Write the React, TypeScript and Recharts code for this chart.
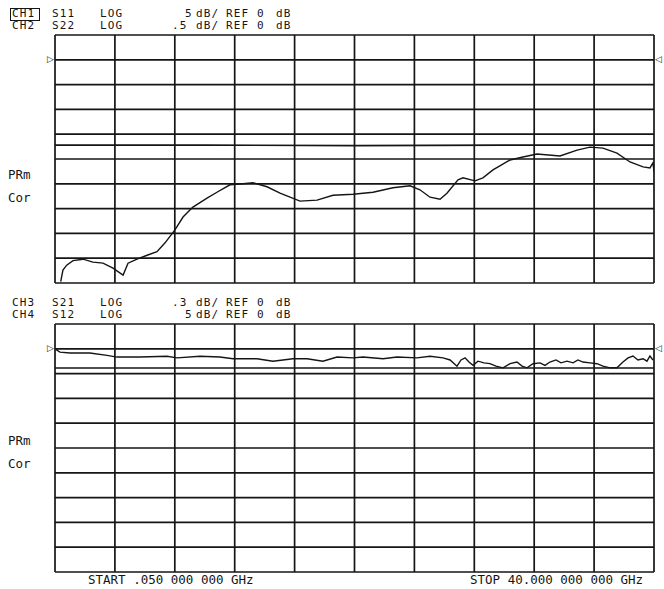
import React from 'react'
import { LineChart, Line, XAxis, YAxis, CartesianGrid } from 'recharts'

// frequency axis, GHz (10 divisions from start to stop)
const X_TICKS = [0.05, 4.045, 8.04, 12.035, 16.03, 20.025, 24.02, 28.015, 32.01, 36.005, 40]
// CH1: 5 dB/div, ref 0 dB one division below top
const CH1_TICKS = [-45, -40, -35, -30, -25, -20, -15, -10, -5, 0, 5]
// CH3: .3 dB/div, ref 0 dB one division below top
const CH3_TICKS = [-2.7, -2.4, -2.1, -1.8, -1.5, -1.2, -0.9, -0.6, -0.3, 0, 0.3]

const S11_FREQ = [
  0.43, 0.58, 0.83, 1.25, 1.92, 2.58, 3.25, 3.92, 4.59, 4.92, 5.52, 6.19, 6.85, 7.39,
  8.05, 8.59, 9.25, 10.19, 10.85, 11.72, 12.59, 13.26, 14.19, 15.06, 16.39, 17.53,
  18.59, 19.93, 21.26, 22.59, 23.73, 24.39, 25.06, 25.73, 26.19, 26.93, 27.26, 28.06,
  28.59, 29.26, 30.4, 31.26, 32.2, 33.73, 34.87, 35.73, 36.6, 37.53, 38.4, 39.27,
  39.73, 39.93, 40,
]
const S11_DB = [
  -44.7, -42.4, -41.4, -40.5, -40.2, -40.8, -41.0, -42.0, -43.4, -41.0, -40.2, -39.4,
  -38.7, -36.9, -34.3, -31.7, -29.7, -27.9, -26.7, -25.2, -25.0, -24.8, -25.6, -26.9,
  -28.5, -28.3, -27.3, -27.1, -26.7, -25.8, -25.4, -26.2, -27.7, -28.1, -26.9, -24.2,
  -23.8, -24.4, -23.8, -22.2, -20.2, -19.6, -19.0, -19.4, -18.2, -17.6, -17.8, -18.8,
  -20.6, -21.6, -21.8, -20.8, -22.6,
]

// CH2: .5 dB/div
const S22_FREQ = [0.05, 10, 20, 30, 40]
const S22_DB = [-1.72, -1.72, -1.73, -1.72, -1.72]

const S21_FREQ = [
  0.05, 0.38, 1.05, 2.38, 3.52, 4.19, 5.72, 7.52, 8.19, 9.72, 11.05, 11.92, 13.52,
  14.59, 15.92, 16.86, 17.92, 18.86, 19.92, 20.59, 21.93, 22.86, 24.19, 25.06, 25.93,
  26.4, 26.86, 27.13, 27.4, 27.66, 27.93, 28.26, 28.66, 29.06, 29.46, 29.93, 30.4,
  30.86, 31.2, 31.53, 31.93, 32.4, 32.73, 33.06, 33.46, 33.8, 34.2, 34.6, 34.93,
  35.26, 35.73, 36.2, 36.6, 37.07, 37.53, 37.93, 38.27, 38.6, 38.93, 39.27, 39.53,
  39.73, 39.93,
]
const S21_DB = [
  0.0, -0.04, -0.05, -0.05, -0.08, -0.1, -0.1, -0.09, -0.11, -0.09, -0.1, -0.12, -0.12,
  -0.15, -0.12, -0.12, -0.15, -0.1, -0.11, -0.1, -0.12, -0.1, -0.11, -0.09, -0.11,
  -0.135, -0.21, -0.135, -0.11, -0.16, -0.2, -0.15, -0.17, -0.18, -0.21, -0.23, -0.18,
  -0.16, -0.21, -0.23, -0.18, -0.17, -0.2, -0.16, -0.135, -0.17, -0.15, -0.17, -0.135,
  -0.16, -0.17, -0.18, -0.21, -0.23, -0.23, -0.16, -0.11, -0.087, -0.135, -0.12, -0.15,
  -0.087, -0.135,
]

// CH4: 5 dB/div
const S12_FREQ = [0.05, 10, 20, 30, 40]
const S12_DB = [-3.87, -3.87, -3.88, -3.87, -3.87]

const zip = (f: number[], v: number[]) => f.map((x, i) => ({ f: x, v: v[i] }))

const INK = '#151515'
const FONT = '"DejaVu Sans Mono", "Liberation Mono", monospace'

function T({ x, y, size = 12.5, children }: { x: number; y: number; size?: number; children: React.ReactNode }) {
  return (
    <span
      style={{
        position: 'absolute', left: x, top: y - 5, lineHeight: '10px', height: 10, fontSize: size,
        letterSpacing: size < 12 ? 1.1 : 0, fontFamily: FONT, color: INK, whiteSpace: 'pre',
      }}
    >
      {children}
    </span>
  )
}

function Header({ y, rows }: { y: number[]; rows: string[][] }) {
  const xs = [12, 52, 100, 0, 196, 226, 257, 276]
  return (
    <>
      {rows.map((r, ri) =>
        r.map((s, i) => {
          let x = xs[i]
          if (i === 3) x = s.startsWith('.') ? 172 : 185
          return <T key={ri + '-' + i} x={x} y={y[ri]} size={11}>{s}</T>
        }),
      )}
    </>
  )
}

function Panel({
  top, ticks, domainA, domainB, main, flat,
}: {
  top: number; ticks: number[]; domainA: [number, number]; domainB: [number, number]
  main: { f: number; v: number }[]; flat: { f: number; v: number }[]
}) {
  return (
    <div style={{ position: 'absolute', left: 0, top }}>
      <LineChart width={664} height={300} margin={{ top: 35, right: 10, bottom: 17, left: 55 }}>
        <CartesianGrid yAxisId="a" stroke={INK} strokeWidth={1.7} />
        <XAxis type="number" dataKey="f" domain={[0.05, 40]} ticks={X_TICKS} hide allowDataOverflow />
        <YAxis yAxisId="a" type="number" domain={domainA} ticks={ticks} hide allowDataOverflow />
        <YAxis yAxisId="b" type="number" domain={domainB} hide allowDataOverflow />
        <Line yAxisId="b" data={flat} dataKey="v" type="linear" stroke={INK} strokeWidth={1.6}
          dot={false} isAnimationActive={false} />
        <Line yAxisId="a" data={main} dataKey="v" type="linear" stroke={INK} strokeWidth={1.4}
          dot={false} isAnimationActive={false} />
      </LineChart>
    </div>
  )
}

export default function App() {
  return (
    <div style={{ position: 'absolute', left: 0, top: 0, width: 664, height: 589, background: '#fff', overflow: 'hidden' }}>
      <Panel top={0} ticks={CH1_TICKS} domainA={[-45, 5]} domainB={[-4.5, 0.5]}
        main={zip(S11_FREQ, S11_DB)} flat={zip(S22_FREQ, S22_DB)} />
      <Panel top={289} ticks={CH3_TICKS} domainA={[-2.7, 0.3]} domainB={[-45, 5]}
        main={zip(S21_FREQ, S21_DB)} flat={zip(S12_FREQ, S12_DB)} />

      <div style={{ position: 'absolute', left: 10, top: 8, width: 28, height: 11, border: `1px solid ${INK}` }} />
      <Header y={[14, 26]} rows={[
        ['CH1', 'S11', 'LOG', '5', 'dB/', 'REF', '0', 'dB'],
        ['CH2', 'S22', 'LOG', '.5', 'dB/', 'REF', '0', 'dB'],
      ]} />
      <Header y={[303, 315]} rows={[
        ['CH3', 'S21', 'LOG', '.3', 'dB/', 'REF', '0', 'dB'],
        ['CH4', 'S12', 'LOG', '5', 'dB/', 'REF', '0', 'dB'],
      ]} />

      <T x={8} y={175}>PRm</T>
      <T x={8} y={198}>Cor</T>
      <T x={8} y={441}>PRm</T>
      <T x={8} y={464}>Cor</T>

      <span style={{ position: 'absolute', left: 47, top: 54, fontSize: 9, fontFamily: '"DejaVu Sans"', color: INK }}>▷</span>
      <span style={{ position: 'absolute', left: 655, top: 54, fontSize: 9, fontFamily: '"DejaVu Sans"', color: INK }}>◁</span>
      <span style={{ position: 'absolute', left: 47, top: 343, fontSize: 9, fontFamily: '"DejaVu Sans"', color: INK }}>▷</span>
      <span style={{ position: 'absolute', left: 655, top: 343, fontSize: 9, fontFamily: '"DejaVu Sans"', color: INK }}>◁</span>

      <T x={88} y={580}>START .050 000 000 GHz</T>
      <T x={470} y={580}>STOP 40.000 000 000 GHz</T>
    </div>
  )
}
